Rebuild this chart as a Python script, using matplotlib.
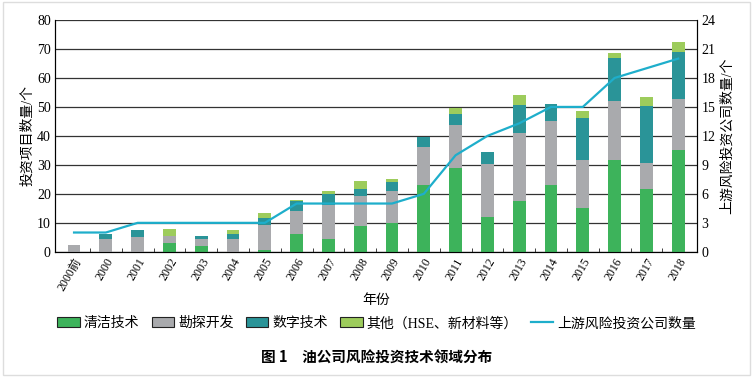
"""油公司风险投资技术领域分布 - 堆积柱 + 公司数量折线"""
import matplotlib
matplotlib.use("Agg")
import matplotlib.pyplot as plt
import numpy as np

plt.rcParams["font.family"] = ["Liberation Serif", "Noto Sans CJK SC", "DejaVu Sans"]

years = ["2000前", "2000", "2001", "2002", "2003", "2004", "2005", "2006", "2007",
         "2008", "2009", "2010", "2011", "2012", "2013", "2014", "2015", "2016",
         "2017", "2018"]
clean   = [0, 0, 0, 3, 2, 0, 0.8, 6, 4.3, 8.9, 10, 23, 29, 12, 17.5, 23, 15, 31.8, 21.8, 35]
explore = [2.5, 4.3, 5, 2.5, 2.3, 4.5, 8.3, 8, 11.7, 10.3, 10.9, 13.1, 14.6, 18.3, 23.5, 22, 16.8, 20.2, 8.9, 17.9]
digital = [0, 2, 2.7, 0, 1, 1.5, 2.6, 3.7, 4, 2.6, 3.1, 3.6, 4.1, 4.1, 9.8, 6, 14.4, 15, 19.5, 16.1]
other   = [0, 0, 0, 2.3, 0, 1.4, 1.7, 0.3, 1.1, 2.6, 1.3, 0, 2, 0, 3.2, 0, 2.3, 1.6, 3.2, 3.4]
firms   = [2, 2, 3, 3, 3, 3, 3, 5, 5, 5, 5, 6, 10, 12, 13.3, 15, 15, 18, 19, 20]

C_CLEAN = "#3db35b"
C_EXPL = "#a9aaad"
C_DIGI = "#2a9498"
C_OTHER = "#9dcc5c"
C_LINE = "#1eaecb"

fig = plt.figure(figsize=(7.53, 3.77), dpi=100)
ax = fig.add_axes([0.073, 0.332, 0.853, 0.615])
x = np.arange(len(years))
w = 0.4

b1 = np.array(clean)
b2 = b1 + np.array(explore)
b3 = b2 + np.array(digital)
ax.bar(x, clean, w, color=C_CLEAN, label="清洁技术", zorder=3)
ax.bar(x, explore, w, bottom=b1, color=C_EXPL, label="勘探开发", zorder=3)
ax.bar(x, digital, w, bottom=b2, color=C_DIGI, label="数字技术", zorder=3)
ax.bar(x, other, w, bottom=b3, color=C_OTHER, label="其他（HSE、新材料等）", zorder=3)

ax.set_ylim(0, 80)
ax.set_yticks(range(0, 81, 10))
ax.set_xlim(-0.6, len(years) - 0.4)
ax.set_xticks(x)
ax.set_xticklabels(years, rotation=60, ha="right", va="top", fontsize=8.5,
                   rotation_mode="anchor")
ax.set_xticks(np.arange(0.5, len(years) - 1, 1), minor=True)
ax.tick_params(axis="x", which="major", length=0, pad=3)
ax.tick_params(axis="x", which="minor", direction="in", length=3, color="#222")
ax.tick_params(axis="y", length=0, labelsize=10, pad=3)
ax.yaxis.grid(True, color="#333", linewidth=0.9, zorder=0)
ax.set_axisbelow(True)
ax.spines["top"].set_visible(False)
for s in ["left", "right", "bottom"]:
    ax.spines[s].set_color("#222")
ax.set_ylabel("投资项目数量/个", fontsize=10, labelpad=2)
ax.set_xlabel("年份", fontsize=10, labelpad=1)

ax2 = ax.twinx()
ax2.plot(x, firms, color=C_LINE, linewidth=1.6, label="上游风险投资公司数量", zorder=4)
ax2.set_ylim(0, 24)
ax2.set_yticks(range(0, 25, 3))
ax2.tick_params(axis="y", length=0, labelsize=10, pad=3)
ax2.spines["top"].set_visible(False)
ax2.set_ylabel("上游风险投资公司数量/个", fontsize=10, labelpad=4)

h1, l1 = ax.get_legend_handles_labels()
h2, l2 = ax2.get_legend_handles_labels()
leg = fig.legend(h1 + h2, l1 + l2, loc="center", bbox_to_anchor=(0.5, 0.142),
                 ncol=5, frameon=False, fontsize=10, handlelength=1.6,
                 handletextpad=0.3, columnspacing=0.9)
for p in leg.get_patches():
    p.set_edgecolor("#222")
    p.set_linewidth(0.8)

fig.text(0.5, 0.05, "图 1　油公司风险投资技术领域分布", ha="center", va="center",
         fontsize=10.5, fontweight="bold", family=["Noto Sans CJK SC", "DejaVu Sans"])

fig.patches.append(plt.Rectangle((0.004, 0.006), 0.992, 0.988, transform=fig.transFigure,
                                 fill=False, edgecolor="#dddddd", linewidth=1))

fig.savefig("out.png", dpi=100)
print("saved out.png")
